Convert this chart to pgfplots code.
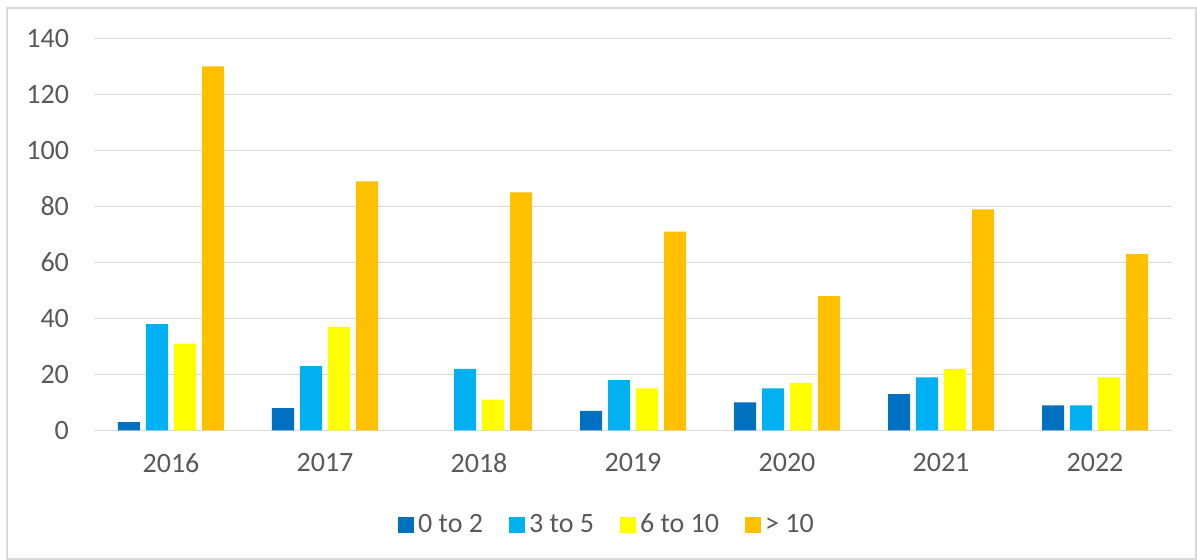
\documentclass[border=0pt]{standalone}
\usepackage{fontspec}
\setmainfont{Carlito}
\usepackage{pgfplots}
\pgfplotsset{compat=1.18}
\definecolor{cA}{HTML}{0070C0}
\definecolor{cB}{HTML}{00B0F0}
\definecolor{cC}{HTML}{FFFF00}
\definecolor{cD}{HTML}{FFC000}
\definecolor{gridc}{HTML}{D9D9D9}
\definecolor{txt}{HTML}{595959}
\begin{document}
\begin{tikzpicture}
\useasboundingbox (0,0) rectangle (598.5pt,280pt);
\draw[gridc, line width=0.75pt] (3.5pt,0.5pt) rectangle (598pt,276pt);
\begin{axis}[
  at={(47pt,64.75pt)}, anchor=south west,
  scale only axis, width=539pt, height=196pt,
  ybar=3pt, bar width=11pt,
  xmin=-0.5, xmax=6.5, ymin=0, ymax=140,
  xtick={0,1,2,3,4,5,6},
  xticklabels={2016,2017,2018,2019,2020,2021,2022},
  ytick={0,20,40,60,80,100,120,140},
  major tick length=0pt,
  axis line style={draw=none},
  ymajorgrids, xmajorgrids=false, major grid style={draw=gridc, line width=0.75pt},
  tick label style={font=\fontsize{14}{16}\selectfont, text=txt},
  /pgf/number format/assume math mode=true,
  xticklabel shift=8pt, yticklabel shift=9pt,
  legend columns=4,
  legend style={draw=none, fill=none, at={(0.4768,-0.24)}, anchor=center,
    font=\fontsize{14}{16}\selectfont, text=txt,
    /tikz/every odd column/.append style={column sep=0pt},
    /tikz/every even column/.append style={column sep=11pt}},
  legend image code/.code={\fill[#1] (0pt,-4pt) rectangle (8pt,4pt);},
]
\draw[gridc, line width=0.75pt] (rel axis cs:0,0) -- (rel axis cs:1,0);
\addplot[fill=cA, draw=none] coordinates {(0,3) (1,8) (3,7) (4,10) (5,13) (6,9)};
\addplot[fill=cB, draw=none] coordinates {(0,38) (1,23) (2,22) (3,18) (4,15) (5,19) (6,9)};
\addplot[fill=cC, draw=none] coordinates {(0,31) (1,37) (2,11) (3,15) (4,17) (5,22) (6,19)};
\addplot[fill=cD, draw=none] coordinates {(0,130) (1,89) (2,85) (3,71) (4,48) (5,79) (6,63)};
\legend{0 to 2, 3 to 5, 6 to 10, > 10}
\end{axis}
\end{tikzpicture}
\end{document}
